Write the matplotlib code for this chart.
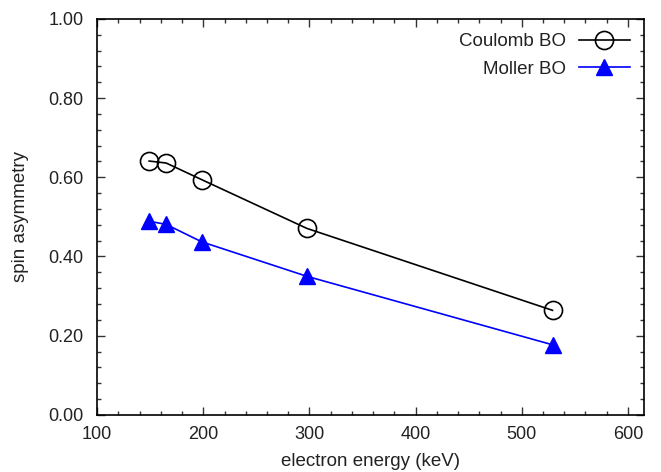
import matplotlib
matplotlib.use("Agg")
import matplotlib.pyplot as plt
from matplotlib.ticker import MultipleLocator, FormatStrFormatter

plt.rcParams['font.family'] = ['Liberation Sans', 'DejaVu Sans']

energy = [149, 165, 198.5, 297.5, 529]
coulomb = [0.641, 0.636, 0.594, 0.471, 0.264]
moller = [0.489, 0.481, 0.437, 0.350, 0.177]

fig = plt.figure(figsize=(6.61, 4.72), dpi=100)
ax = fig.add_axes([0.147, 0.121, 0.827, 0.839])

ax.plot(energy, coulomb, color='black', lw=1.2, marker='o', ms=13,
        mfc='none', mec='black', mew=1.2, label='Coulomb BO')
ax.plot(energy, moller, color='blue', lw=1.2, marker='^', ms=12,
        mfc='blue', mec='blue', label='Moller BO')

ax.set_xlim(100, 615)
ax.set_ylim(0, 1)
ax.xaxis.set_major_locator(MultipleLocator(100))
ax.xaxis.set_minor_locator(MultipleLocator(20))
ax.yaxis.set_major_locator(MultipleLocator(0.2))
ax.yaxis.set_minor_locator(MultipleLocator(0.04))
ax.yaxis.set_major_formatter(FormatStrFormatter('%.2f'))
ax.tick_params(which='both', direction='in', top=True, right=True,
               labelsize=13, labelcolor='#222222', color='#333333')
ax.tick_params(axis='x', which='major', pad=8)
ax.tick_params(axis='y', which='major', pad=10)
ax.tick_params(which='major', length=6, width=1)
ax.tick_params(which='minor', length=3, width=1)
for s in ax.spines.values():
    s.set_linewidth(1.2)

ax.set_xlabel('electron energy (keV)', fontsize=13.5, color='#222222', labelpad=7)
ax.set_ylabel('spin asymmetry', fontsize=13.5, color='#222222', labelpad=14)

ax.legend(loc='upper right', frameon=False, markerfirst=False, fontsize=13.5,
          handlelength=2.7, labelspacing=0.55, borderaxespad=0.35,
          handletextpad=0.7, labelcolor='#222222')

fig.savefig('out.png', dpi=100)
